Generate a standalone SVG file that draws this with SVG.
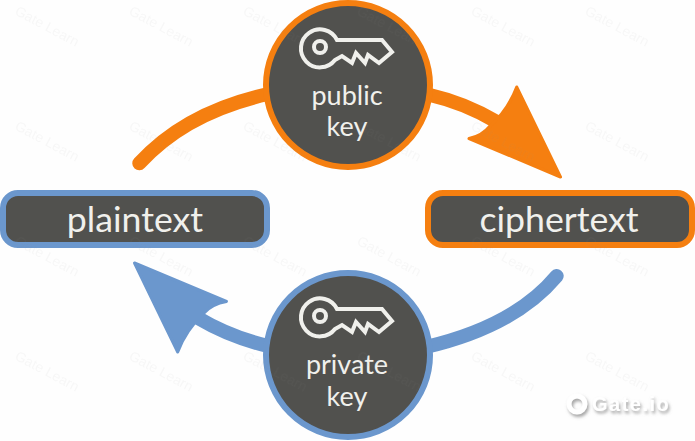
<svg xmlns="http://www.w3.org/2000/svg" width="695" height="441" viewBox="0 0 695 441">
<style>
.fill{fill:#51514e}
.lbl{font-family:"Lato","Open Sans",sans-serif;fill:#f0f0ec;text-anchor:middle}
.sm{font-size:27px}
.lg{font-size:35.7px}
.key{fill:none;stroke:#f0f0ec;stroke-width:4;stroke-linejoin:miter}
.or{stroke:#f57f10}
.bl{stroke:#6b97cd}
.arc{fill:none;stroke-width:14;stroke-linecap:round}
.head{stroke-width:3;stroke-linejoin:round}
.wm{font-family:"Liberation Sans",sans-serif;font-size:14px;fill:#8a8a8a;fill-opacity:.06}
</style>
<defs>
<path id="k" d="M17-7H62L72 5 59 16 48 8 45 16 36 6 32 16 22 9 15 13A19 19 0 1 1 17-7Z"/>
<pattern id="wm" width="114" height="115" patternUnits="userSpaceOnUse" x="12" y="4">
<text class="wm" transform="translate(2,10) rotate(28)">Gate Learn</text>
</pattern>
<filter id="sh" x="-10%" y="-30%" width="125%" height="170%">
<feDropShadow dx="1.5" dy="2.5" stdDeviation="1.5" flood-color="#8f8f8f" flood-opacity=".8"/>
</filter>
</defs>
<rect width="695" height="441" fill="#fefefe"/>
<g id="connectors">
<path class="arc or" d="M139.3 163.3C165 135 205 108 268 94"/>
<path class="arc or" d="M430 95Q465 103 497 122"/>
<path class="or head" fill="#f57f10" d="M516.7 87L560.5 177L469 138.5Q482 136 490 126Q508 110 516.7 87Z"/>
<path class="arc bl" d="M556.7 276C530 308 490 332 426 347"/>
<path class="arc bl" d="M268 346Q230 337 198 318"/>
<path class="bl head" fill="#6b97cd" d="M134.5 263L226.5 301.5Q212 304 204 313Q186 330 177.7 352Z"/>
</g>
<g id="plaintext">
<rect class="fill bl" x="3" y="193" width="264" height="52" rx="15" stroke-width="6"/>
<text class="lbl lg" x="135" y="232">plaintext</text>
</g>
<g id="ciphertext">
<rect class="fill or" x="428" y="193" width="264" height="52" rx="15" stroke-width="6"/>
<text class="lbl lg" x="559" y="232">ciphertext</text>
</g>
<g id="public-key">
<circle class="fill or" cx="348" cy="85" r="82" stroke-width="6"/>
<g transform="translate(320,47)"><use href="#k" class="key"/><circle r="6" class="key"/></g>
<text class="lbl sm" x="347" y="105">public</text>
<text class="lbl sm" x="347" y="136">key</text>
</g>
<g id="private-key">
<circle class="fill bl" cx="348" cy="355" r="82" stroke-width="6"/>
<g transform="translate(320,316)"><use href="#k" class="key"/><circle r="6" class="key"/></g>
<text class="lbl sm" x="347" y="374">private</text>
<text class="lbl sm" x="347" y="406">key</text>
</g>
<rect id="watermark" width="695" height="441" fill="url(#wm)"/>
<g id="logo" filter="url(#sh)">
<text x="592" y="411" font-family="'Liberation Sans',sans-serif" font-weight="700" font-size="20" letter-spacing="1.5" fill="#fff">Gate.io</text>
<circle cx="577" cy="404" r="8" fill="none" stroke="#fff" stroke-width="5"/>
</g>
</svg>
